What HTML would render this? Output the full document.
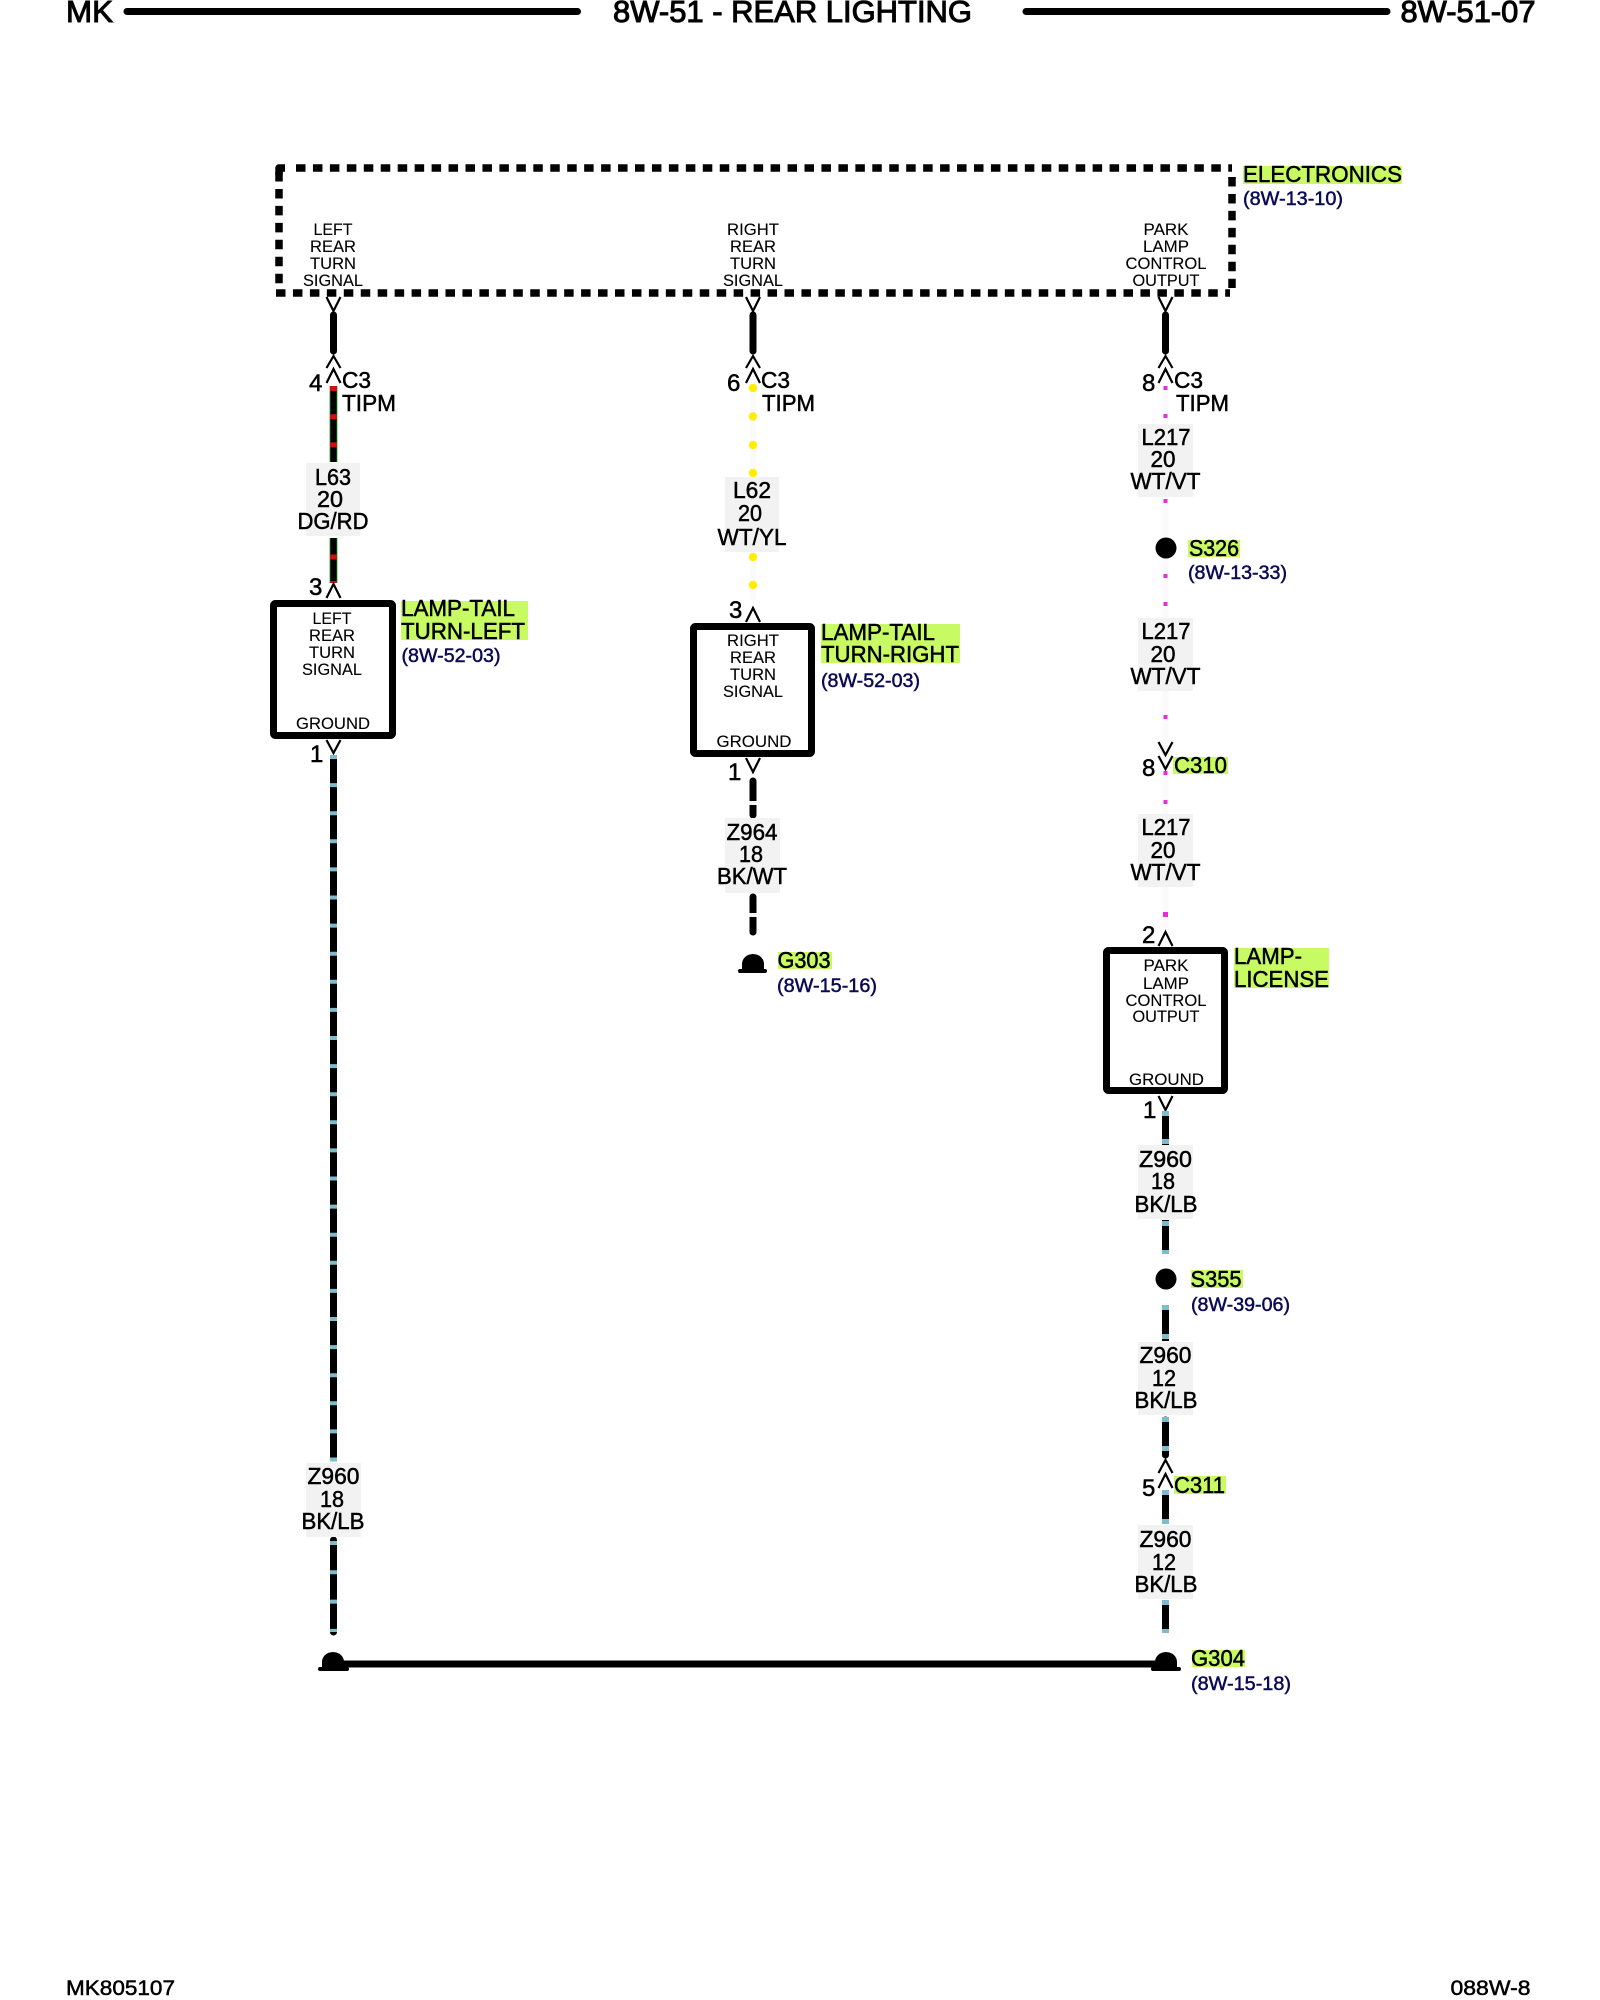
<!DOCTYPE html>
<html>
<head>
<meta charset="utf-8">
<style>
html,body{margin:0;padding:0;background:#fff;width:1600px;height:2000px;overflow:hidden}
svg{display:block}
text{font-family:"Liberation Sans",sans-serif;fill:#000}
.h{font-size:31px;stroke:#000;stroke-width:1}
.s{font-size:16.5px;text-anchor:middle;stroke:#000;stroke-width:.1}
.l{font-size:23px;stroke:#000;stroke-width:.5}
.m{font-size:23px;text-anchor:middle;stroke:#000;stroke-width:.5}
.n{font-size:24px;stroke:#000;stroke-width:.5}
.r{font-size:19.5px;fill:#0a0a55;stroke:#0a0a55;stroke-width:.5}
.f{font-size:21px;stroke:#000;stroke-width:.5}
.v{fill:none;stroke:#000;stroke-width:2.2}
.w{stroke:#000;stroke-width:7;stroke-linecap:round}
.t{stroke:#7fbccb;stroke-width:7}
.g{stroke:#000;stroke-width:7.5;stroke-linecap:butt;stroke-dasharray:9.5 7.45;fill:none}
.b{fill:#fff;stroke:#000;stroke-width:7;stroke-linejoin:round}
.bg{fill:#f2f2f2}
.hl{fill:#c8fa64}
</style>
</head>
<body>
<svg width="1600" height="2000" viewBox="0 0 1600 2000" xmlns="http://www.w3.org/2000/svg">
<rect width="1600" height="2000" fill="#fff"/>

<!-- header -->
<text class="h" x="66" y="22" textLength="47" lengthAdjust="spacingAndGlyphs">MK</text>
<line x1="127" y1="11.5" x2="577.5" y2="11.5" stroke="#000" stroke-width="7" stroke-linecap="round"/>
<text class="h" x="613" y="22" textLength="359" lengthAdjust="spacingAndGlyphs">8W-51 - REAR LIGHTING</text>
<line x1="1026" y1="11.5" x2="1387" y2="11.5" stroke="#000" stroke-width="7" stroke-linecap="round"/>
<text class="h" x="1400.5" y="22" textLength="135" lengthAdjust="spacingAndGlyphs">8W-51-07</text>

<!-- dashed box -->
<line class="g" x1="296" y1="168" x2="1232" y2="168"/>
<line class="g" x1="276" y1="293" x2="1230" y2="293"/>
<line class="g" x1="279" y1="172" x2="279" y2="284"/>
<line class="g" x1="1232" y1="177" x2="1232" y2="288"/>
<path d="M279 175V168H285" fill="none" stroke="#000" stroke-width="7.5" stroke-linejoin="round"/>

<!-- module labels -->
<text class="s" x="333" y="235" textLength="39" lengthAdjust="spacingAndGlyphs">LEFT</text>
<text class="s" x="333" y="252" textLength="46" lengthAdjust="spacingAndGlyphs">REAR</text>
<text class="s" x="333" y="269" textLength="46" lengthAdjust="spacingAndGlyphs">TURN</text>
<text class="s" x="333" y="286" textLength="60" lengthAdjust="spacingAndGlyphs">SIGNAL</text>
<text class="s" x="753" y="235" textLength="52" lengthAdjust="spacingAndGlyphs">RIGHT</text>
<text class="s" x="753" y="252" textLength="46" lengthAdjust="spacingAndGlyphs">REAR</text>
<text class="s" x="753" y="269" textLength="46" lengthAdjust="spacingAndGlyphs">TURN</text>
<text class="s" x="753" y="286" textLength="60" lengthAdjust="spacingAndGlyphs">SIGNAL</text>
<text class="s" x="1166" y="235" textLength="45" lengthAdjust="spacingAndGlyphs">PARK</text>
<text class="s" x="1166" y="252" textLength="46" lengthAdjust="spacingAndGlyphs">LAMP</text>
<text class="s" x="1166" y="269" textLength="81" lengthAdjust="spacingAndGlyphs">CONTROL</text>
<text class="s" x="1166" y="286" textLength="67" lengthAdjust="spacingAndGlyphs">OUTPUT</text>

<!-- top stubs + C3 connectors -->
<g>
<line class="w" x1="333.5" y1="315" x2="333.5" y2="351"/>
<line class="w" x1="753" y1="315" x2="753" y2="351"/>
<line class="w" x1="1165.5" y1="315" x2="1165.5" y2="351"/>
<polyline class="v" points="326.5,297 333.5,311 340.5,297"/>
<polyline class="v" points="326.5,368 333.5,356 340.5,368"/>
<polyline class="v" points="326.5,383 333.5,369 340.5,383"/>
<polyline class="v" points="746,297 753,311 760,297"/>
<polyline class="v" points="746,368 753,356 760,368"/>
<polyline class="v" points="746,383 753,369 760,383"/>
<polyline class="v" points="1158.5,297 1165.5,311 1172.5,297"/>
<polyline class="v" points="1158.5,368 1165.5,356 1172.5,368"/>
<polyline class="v" points="1158.5,383 1165.5,369 1172.5,383"/>
</g>
<text class="n" x="309" y="391">4</text>
<text class="l" x="342" y="388" textLength="29" lengthAdjust="spacingAndGlyphs">C3</text>
<text class="l" x="342" y="411" textLength="54" lengthAdjust="spacingAndGlyphs">TIPM</text>
<text class="n" x="727" y="391">6</text>
<text class="l" x="761" y="388" textLength="29" lengthAdjust="spacingAndGlyphs">C3</text>
<text class="l" x="762" y="411" textLength="53" lengthAdjust="spacingAndGlyphs">TIPM</text>
<text class="n" x="1142" y="391">8</text>
<text class="l" x="1174" y="388" textLength="29" lengthAdjust="spacingAndGlyphs">C3</text>
<text class="l" x="1176" y="411" textLength="53" lengthAdjust="spacingAndGlyphs">TIPM</text>

<!-- left wire L63 -->
<line x1="333.5" y1="386" x2="333.5" y2="462" stroke="#3fc14a" stroke-width="8"/>
<line x1="333.5" y1="386" x2="333.5" y2="462" stroke="#000" stroke-width="6.4"/>
<line x1="333.5" y1="538" x2="333.5" y2="583" stroke="#3fc14a" stroke-width="8"/>
<line x1="333.5" y1="538" x2="333.5" y2="583" stroke="#000" stroke-width="6.4"/>
<line x1="333.5" y1="386" x2="333.5" y2="462" stroke="#d01010" stroke-width="7" stroke-dasharray="5 23.2"/>
<rect x="330" y="554.5" width="7" height="5" fill="#d01010"/>
<rect x="330" y="581" width="7" height="2" fill="#d01010"/>
<rect class="bg" x="306" y="463" width="54" height="73"/>
<text class="m" x="333" y="485" textLength="36" lengthAdjust="spacingAndGlyphs">L63</text>
<text class="m" x="330" y="507" textLength="26" lengthAdjust="spacingAndGlyphs">20</text>
<text class="m" x="333" y="529" textLength="71" lengthAdjust="spacingAndGlyphs">DG/RD</text>

<!-- left module -->
<text class="n" x="309" y="595">3</text>
<polyline class="v" points="326.5,598 333.5,584 340.5,598"/>
<rect class="b" x="273.5" y="603.5" width="119" height="132" rx="2"/>
<text class="s" x="332" y="624" textLength="39" lengthAdjust="spacingAndGlyphs">LEFT</text>
<text class="s" x="332" y="641" textLength="46" lengthAdjust="spacingAndGlyphs">REAR</text>
<text class="s" x="332" y="658" textLength="46" lengthAdjust="spacingAndGlyphs">TURN</text>
<text class="s" x="332" y="675" textLength="60" lengthAdjust="spacingAndGlyphs">SIGNAL</text>
<text class="s" x="333" y="729" textLength="74" lengthAdjust="spacingAndGlyphs">GROUND</text>
<rect class="hl" x="401" y="601" width="127" height="39"/>
<text class="l" x="401" y="616" textLength="114" lengthAdjust="spacingAndGlyphs">LAMP-TAIL</text>
<text class="l" x="401" y="639" textLength="124" lengthAdjust="spacingAndGlyphs">TURN-LEFT</text>
<text class="r" x="401.5" y="662" textLength="99" lengthAdjust="spacingAndGlyphs">(8W-52-03)</text>
<polyline class="v" points="326.5,740 333.5,753 340.5,740"/>
<text class="n" x="310" y="762">1</text>

<!-- left wire Z960 -->
<line x1="333.5" y1="755" x2="333.5" y2="1461" stroke="#000" stroke-width="7"/>
<line x1="333.5" y1="755" x2="333.5" y2="1462" class="t" stroke-dasharray="4 24.1"/>
<line x1="333.5" y1="1540" x2="333.5" y2="1632" class="w"/>
<line x1="333.5" y1="1541" x2="333.5" y2="1632" class="t" stroke-dasharray="4 25.3"/>
<rect class="bg" x="306" y="1463" width="55" height="74"/>
<text class="m" x="333.5" y="1484" textLength="52" lengthAdjust="spacingAndGlyphs">Z960</text>
<text class="m" x="332" y="1507" textLength="24" lengthAdjust="spacingAndGlyphs">18</text>
<text class="m" x="333" y="1529" textLength="63" lengthAdjust="spacingAndGlyphs">BK/LB</text>

<!-- middle wire L62 -->
<line x1="753" y1="388" x2="753" y2="600" stroke="#fafafa" stroke-width="6"/>
<g fill="#ffee00">
<circle cx="753" cy="388" r="4.2"/><circle cx="753" cy="416.5" r="4.2"/><circle cx="753" cy="445" r="4.2"/><circle cx="753" cy="473" r="4.2"/><circle cx="753" cy="557" r="4.2"/><circle cx="753" cy="585" r="4.2"/>
</g>
<rect class="bg" x="725" y="477" width="54" height="75"/>
<text class="m" x="752" y="498" textLength="38" lengthAdjust="spacingAndGlyphs">L62</text>
<text class="m" x="750" y="521" textLength="24" lengthAdjust="spacingAndGlyphs">20</text>
<text class="m" x="752" y="545" textLength="69" lengthAdjust="spacingAndGlyphs">WT/YL</text>

<!-- middle module -->
<text class="n" x="729" y="618">3</text>
<polyline class="v" points="746,622 753,608 760,622"/>
<rect class="b" x="693.5" y="626.5" width="118" height="127" rx="2"/>
<text class="s" x="753" y="646" textLength="52" lengthAdjust="spacingAndGlyphs">RIGHT</text>
<text class="s" x="753" y="663" textLength="46" lengthAdjust="spacingAndGlyphs">REAR</text>
<text class="s" x="753" y="680" textLength="46" lengthAdjust="spacingAndGlyphs">TURN</text>
<text class="s" x="753" y="697" textLength="60" lengthAdjust="spacingAndGlyphs">SIGNAL</text>
<text class="s" x="754" y="747" textLength="75" lengthAdjust="spacingAndGlyphs">GROUND</text>
<rect class="hl" x="821" y="624" width="139" height="39"/>
<text class="l" x="821" y="640" textLength="114" lengthAdjust="spacingAndGlyphs">LAMP-TAIL</text>
<text class="l" x="821" y="662" textLength="138" lengthAdjust="spacingAndGlyphs">TURN-RIGHT</text>
<text class="r" x="821" y="687" textLength="99" lengthAdjust="spacingAndGlyphs">(8W-52-03)</text>
<polyline class="v" points="746,758 753,772 760,758"/>
<text class="n" x="728" y="780">1</text>

<!-- middle wire Z964 -->
<line class="w" x1="753" y1="781" x2="753" y2="815"/>
<rect x="749" y="801" width="8" height="4" fill="#f0f4f4"/>
<rect class="bg" x="725" y="818" width="55" height="75"/>
<text class="m" x="752" y="840" textLength="51" lengthAdjust="spacingAndGlyphs">Z964</text>
<text class="m" x="751" y="862" textLength="24" lengthAdjust="spacingAndGlyphs">18</text>
<text class="m" x="752" y="884" textLength="70" lengthAdjust="spacingAndGlyphs">BK/WT</text>
<line class="w" x1="753" y1="897" x2="753" y2="932"/>
<rect x="749" y="913" width="8" height="4" fill="#f0f4f4"/>

<!-- G303 -->
<path d="M742 970V964A11 10 0 0 1 764 964V970Z" fill="#000"/>
<line x1="740" y1="971" x2="765" y2="971" stroke="#000" stroke-width="4" stroke-linecap="round"/>
<rect class="hl" x="778" y="952" width="54" height="17"/>
<text class="l" x="777.5" y="968" textLength="53" lengthAdjust="spacingAndGlyphs">G303</text>
<text class="r" x="777" y="992" textLength="100" lengthAdjust="spacingAndGlyphs">(8W-15-16)</text>

<!-- right wire L217 -->
<line x1="1165.5" y1="388" x2="1165.5" y2="930" stroke="#fbf9fb" stroke-width="6"/>
<g fill="#e030d8">
<rect x="1163.5" y="386" width="4" height="4"/><rect x="1163.5" y="414" width="4" height="4"/><rect x="1163.5" y="499" width="4" height="4"/><rect x="1163.5" y="574" width="4" height="4"/><rect x="1163.5" y="602" width="4" height="4"/><rect x="1163.5" y="715" width="4" height="4"/><rect x="1163.5" y="771" width="4" height="4"/><rect x="1163.5" y="800" width="4" height="4"/><rect x="1163" y="912" width="5" height="5"/>
</g>
<circle cx="1166" cy="548" r="10.5" fill="#000"/>
<rect x="1188" y="540" width="52" height="17" class="hl"/>
<text class="l" x="1189" y="556" textLength="50" lengthAdjust="spacingAndGlyphs">S326</text>
<text class="r" x="1188" y="579" textLength="99" lengthAdjust="spacingAndGlyphs">(8W-13-33)</text>

<rect class="bg" x="1138" y="424" width="55" height="73"/>
<text class="m" x="1166" y="445" textLength="49" lengthAdjust="spacingAndGlyphs">L217</text>
<text class="m" x="1163" y="467" textLength="25" lengthAdjust="spacingAndGlyphs">20</text>
<text class="m" x="1165.5" y="489" textLength="70" lengthAdjust="spacingAndGlyphs">WT/VT</text>

<rect class="bg" x="1138" y="618" width="55" height="73"/>
<text class="m" x="1166" y="639" textLength="49" lengthAdjust="spacingAndGlyphs">L217</text>
<text class="m" x="1163" y="662" textLength="25" lengthAdjust="spacingAndGlyphs">20</text>
<text class="m" x="1165.5" y="684" textLength="70" lengthAdjust="spacingAndGlyphs">WT/VT</text>

<rect class="bg" x="1138" y="814" width="55" height="73"/>
<text class="m" x="1166" y="835" textLength="49" lengthAdjust="spacingAndGlyphs">L217</text>
<text class="m" x="1163" y="858" textLength="25" lengthAdjust="spacingAndGlyphs">20</text>
<text class="m" x="1165.5" y="880" textLength="70" lengthAdjust="spacingAndGlyphs">WT/VT</text>

<!-- C310 -->
<polyline class="v" points="1158.5,742 1165.5,755 1172.5,742"/>
<polyline class="v" points="1158.5,756 1165.5,769 1172.5,756"/>
<text class="n" x="1142" y="776">8</text>
<rect class="hl" x="1173" y="757" width="55" height="17"/>
<text class="l" x="1174" y="773" textLength="53" lengthAdjust="spacingAndGlyphs">C310</text>

<!-- right module -->
<text class="n" x="1142" y="943">2</text>
<polyline class="v" points="1158.5,946 1165.5,932 1172.5,946"/>
<rect class="b" x="1106.5" y="950.5" width="118" height="140" rx="2"/>
<text class="s" x="1166" y="971" textLength="45" lengthAdjust="spacingAndGlyphs">PARK</text>
<text class="s" x="1166" y="989" textLength="46" lengthAdjust="spacingAndGlyphs">LAMP</text>
<text class="s" x="1166" y="1006" textLength="81" lengthAdjust="spacingAndGlyphs">CONTROL</text>
<text class="s" x="1166" y="1022" textLength="67" lengthAdjust="spacingAndGlyphs">OUTPUT</text>
<text class="s" x="1166.5" y="1085" textLength="75" lengthAdjust="spacingAndGlyphs">GROUND</text>
<rect class="hl" x="1234" y="948" width="95" height="40"/>
<text class="l" x="1234" y="964" textLength="68" lengthAdjust="spacingAndGlyphs">LAMP-</text>
<text class="l" x="1234" y="987" textLength="95" lengthAdjust="spacingAndGlyphs">LICENSE</text>
<polyline class="v" points="1158.5,1096 1165.5,1110 1172.5,1096"/>
<text class="n" x="1143" y="1118">1</text>

<!-- right Z960 segments -->
<line x1="1165.5" y1="1111" x2="1165.5" y2="1145" stroke="#000" stroke-width="7"/>
<rect x="1162" y="1111" width="7" height="5" fill="#7fbccb"/>
<rect x="1162" y="1139" width="7" height="5" fill="#7fbccb"/>
<rect class="bg" x="1138" y="1145" width="55" height="74"/>
<text class="m" x="1165.5" y="1167" textLength="53" lengthAdjust="spacingAndGlyphs">Z960</text>
<text class="m" x="1163" y="1189" textLength="24" lengthAdjust="spacingAndGlyphs">18</text>
<text class="m" x="1166" y="1212" textLength="63" lengthAdjust="spacingAndGlyphs">BK/LB</text>
<line x1="1165.5" y1="1220" x2="1165.5" y2="1253" stroke="#000" stroke-width="7"/>
<rect x="1162" y="1221" width="7" height="5" fill="#7fbccb"/>
<rect x="1162" y="1250" width="7" height="4" fill="#7fbccb"/>

<circle cx="1166" cy="1279" r="10.5" fill="#000"/>
<rect class="hl" x="1191" y="1270" width="52" height="18"/>
<text class="l" x="1190.5" y="1287" textLength="51" lengthAdjust="spacingAndGlyphs">S355</text>
<text class="r" x="1191" y="1311" textLength="99" lengthAdjust="spacingAndGlyphs">(8W-39-06)</text>

<line x1="1165.5" y1="1305" x2="1165.5" y2="1341" stroke="#000" stroke-width="7"/>
<rect x="1162" y="1305" width="7" height="5" fill="#7fbccb"/>
<rect x="1162" y="1334" width="7" height="5" fill="#7fbccb"/>
<rect class="bg" x="1138" y="1342" width="55" height="73"/>
<text class="m" x="1165.5" y="1363" textLength="52" lengthAdjust="spacingAndGlyphs">Z960</text>
<text class="m" x="1164" y="1386" textLength="24" lengthAdjust="spacingAndGlyphs">12</text>
<text class="m" x="1166" y="1408" textLength="63" lengthAdjust="spacingAndGlyphs">BK/LB</text>
<line class="w" x1="1165.5" y1="1420" x2="1165.5" y2="1455"/>
<rect x="1162" y="1417" width="7" height="5" fill="#7fbccb"/>
<rect x="1162" y="1446" width="7" height="5" fill="#7fbccb"/>

<polyline class="v" points="1158.5,1473 1165.5,1460 1172.5,1473"/>
<polyline class="v" points="1158.5,1488 1165.5,1474 1172.5,1488"/>
<text class="n" x="1142" y="1496">5</text>
<rect class="hl" x="1174" y="1476" width="52" height="18"/>
<text class="l" x="1174" y="1493" textLength="51" lengthAdjust="spacingAndGlyphs">C311</text>

<line x1="1165.5" y1="1490" x2="1165.5" y2="1524" stroke="#000" stroke-width="7"/>
<rect x="1162" y="1490" width="7" height="5" fill="#7fbccb"/>
<rect x="1162" y="1519" width="7" height="5" fill="#7fbccb"/>
<rect class="bg" x="1138" y="1525" width="55" height="74"/>
<text class="m" x="1165.5" y="1547" textLength="52" lengthAdjust="spacingAndGlyphs">Z960</text>
<text class="m" x="1164" y="1570" textLength="24" lengthAdjust="spacingAndGlyphs">12</text>
<text class="m" x="1166" y="1592" textLength="63" lengthAdjust="spacingAndGlyphs">BK/LB</text>
<line x1="1165.5" y1="1600" x2="1165.5" y2="1633" stroke="#000" stroke-width="7"/>
<rect x="1162" y="1600" width="7" height="5" fill="#7fbccb"/>
<rect x="1162" y="1629" width="7" height="4" fill="#7fbccb"/>

<!-- ground bus -->
<line x1="333" y1="1664" x2="1166" y2="1664" stroke="#000" stroke-width="7"/>
<path d="M322 1667V1662A11 10 0 0 1 344 1662V1667Z" fill="#000"/>
<line x1="320" y1="1669" x2="347" y2="1669" stroke="#000" stroke-width="4" stroke-linecap="round"/>
<path d="M1155 1667V1662A11 10 0 0 1 1177 1662V1667Z" fill="#000"/>
<line x1="1153" y1="1669" x2="1179" y2="1669" stroke="#000" stroke-width="4" stroke-linecap="round"/>
<rect class="hl" x="1192" y="1650" width="53" height="17"/>
<text class="l" x="1191" y="1666" textLength="54" lengthAdjust="spacingAndGlyphs">G304</text>
<text class="r" x="1191" y="1690" textLength="100" lengthAdjust="spacingAndGlyphs">(8W-15-18)</text>

<!-- electronics label -->
<rect class="hl" x="1243" y="166" width="159" height="18"/>
<text class="l" x="1243" y="182" textLength="159" lengthAdjust="spacingAndGlyphs">ELECTRONICS</text>
<text class="r" x="1243" y="205" textLength="100" lengthAdjust="spacingAndGlyphs">(8W-13-10)</text>

<!-- footer -->
<text class="f" x="66" y="1995" textLength="109" lengthAdjust="spacingAndGlyphs">MK805107</text>
<text class="f" x="1450.5" y="1995" textLength="80" lengthAdjust="spacingAndGlyphs">088W-8</text>
</svg>
</body>
</html>
